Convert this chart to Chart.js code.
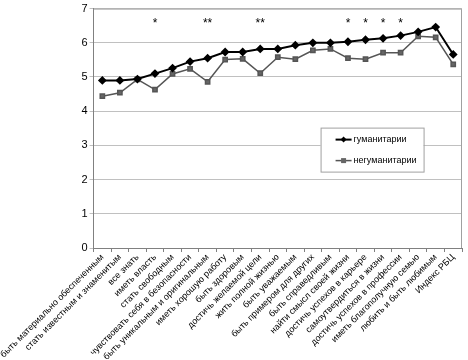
<!DOCTYPE html>
<html>
<head>
<meta charset="utf-8">
<script src="https://cdn.jsdelivr.net/npm/chart.js@4"></script>
<style>
  html, body { margin: 0; padding: 0; background: #fff; }
  #wrap { width: 468px; height: 360px; position: relative; }
</style>
</head>
<body>
<div id="wrap"><canvas id="chart"></canvas></div>
<script>
const categories = [
  "быть материально обеспеченным",
  "стать известным и знаменитым",
  "все знать",
  "иметь власть",
  "стать свободным",
  "чувствовать себя в безопасности",
  "быть уникальным и оригинальным",
  "иметь хорошую работу",
  "быть здоровым",
  "достичь желаемой цели",
  "жить полной жизнью",
  "быть уважаемым",
  "быть примером для других",
  "быть справедливым",
  "найти смысл своей жизни",
  "достичь успехов в карьере",
  "самоутвердиться в жизни",
  "достичь успехов в профессии",
  "иметь благополучную семью",
  "любить и быть любимым",
  "Индекс РБЦ"
];
const humanities = [4.90, 4.90, 4.94, 5.10, 5.26, 5.45, 5.55, 5.73, 5.73, 5.82, 5.82,
  5.93, 6.00, 6.00, 6.03, 6.09, 6.13, 6.21, 6.32, 6.46, 5.66];
const nonHumanities = [4.44, 4.54, 4.93, 4.63, 5.09, 5.24, 4.86, 5.51, 5.53, 5.11, 5.58,
  5.52, 5.78, 5.82, 5.55, 5.52, 5.71, 5.71, 6.19, 6.16, 5.37];
const significance = ["", "", "", "*", "", "", "**", "", "", "**", "",
  "", "", "", "*", "*", "*", "*", "", "", ""];
const yTicks = [0, 1, 2, 3, 4, 5, 6, 7];

const FONT = "'Liberation Sans', Arial, sans-serif";

// grey frame round the plot, like Excel
const frame = {
  id: "frame",
  beforeDatasetsDraw(chart) {
    const a = chart.chartArea, ctx = chart.ctx;
    ctx.save();
    ctx.strokeStyle = "#a0a0a0";
    ctx.lineWidth = 1;
    ctx.beginPath();
    ctx.moveTo(a.left, a.top + 0.5);
    ctx.lineTo(a.right - 0.5, a.top + 0.5);
    ctx.lineTo(a.right - 0.5, a.bottom);
    ctx.stroke();
    ctx.restore();
  }
};

// asterisks above significant differences
const starsPlugin = {
  id: "stars",
  afterDatasetsDraw(chart) {
    const ctx = chart.ctx;
    const xs = chart.scales.x, ys = chart.scales.y;
    ctx.save();
    ctx.fillStyle = "#000";
    ctx.font = "12px " + FONT;
    ctx.textAlign = "center";
    ctx.textBaseline = "middle";
    significance.forEach((s, i) => {
      if (!s) return;
      ctx.fillText(s, xs.getPixelForValue(i), ys.getPixelForValue(6.55));
    });
    ctx.restore();
  }
};

// Excel-like legend box inside the plot
const boxLegend = {
  id: "boxLegend",
  afterDraw(chart) {
    const ctx = chart.ctx;
    const a = chart.chartArea;
    const left = a.left + 227, top = a.top + 119, w = 103, h = 44;
    ctx.save();
    ctx.fillStyle = "#fff";
    ctx.fillRect(left, top, w, h);
    ctx.strokeStyle = "#a0a0a0";
    ctx.lineWidth = 1;
    ctx.strokeRect(left + 0.5, top + 0.5, w, h);
    ctx.font = "9px " + FONT;
    ctx.textBaseline = "middle";
    chart.data.datasets.forEach((ds, i) => {
      const y = top + 12 + i * 21;
      ctx.strokeStyle = ds.borderColor;
      ctx.lineWidth = ds.borderWidth;
      ctx.beginPath();
      ctx.moveTo(left + 15, y);
      ctx.lineTo(left + 31, y);
      ctx.stroke();
      ctx.fillStyle = ds.pointBackgroundColor;
      const cx = left + 23;
      if (ds.pointStyle === "rectRot") {
        ctx.beginPath();
        ctx.moveTo(cx, y - 3); ctx.lineTo(cx + 3, y); ctx.lineTo(cx, y + 3); ctx.lineTo(cx - 3, y);
        ctx.closePath(); ctx.fill();
      } else {
        ctx.fillRect(cx - 2.5, y - 2.5, 5, 5);
      }
      ctx.fillStyle = "#000";
      ctx.fillText(ds.label, left + 33, y);
    });
    ctx.restore();
  }
};

new Chart(document.getElementById("chart"), {
  type: "line",
  data: {
    labels: categories,
    datasets: [
      {
        label: "гуманитарии",
        data: humanities,
        borderColor: "#000",
        backgroundColor: "#000",
        pointBackgroundColor: "#000",
        pointBorderColor: "#000",
        borderWidth: 2,
        pointStyle: "rectRot",
        pointRadius: 3,
        tension: 0
      },
      {
        label: "негуманитарии",
        data: nonHumanities,
        borderColor: "#555",
        backgroundColor: "#666",
        pointBackgroundColor: "#666",
        pointBorderColor: "#555",
        borderWidth: 1.5,
        pointStyle: "rect",
        pointRadius: 3,
        tension: 0
      }
    ]
  },
  options: {
    responsive: true,
    maintainAspectRatio: false,
    animation: false,
    layout: { padding: { top: -6, right: 2, left: 0, bottom: 0 } },
    plugins: {
      legend: { display: false },
      tooltip: { enabled: false }
    },
    scales: {
      x: {
        offset: true,
        grid: { display: true, drawOnChartArea: false, drawTicks: true, tickLength: 4, offset: true, color: "#808080" },
        border: { color: "#808080" },
        ticks: {
          autoSkip: false, maxRotation: 45, minRotation: 45,
          color: "#000", padding: 0,
          font: { family: FONT, size: 9 }
        },
        afterFit(scale) { scale.height = 112; }
      },
      y: {
        min: 0, max: 7,
        afterBuildTicks(scale) { scale.ticks = yTicks.map(v => ({ value: v })); },
        grid: { color: "#c0c0c0", drawTicks: true, tickLength: 4 },
        border: { color: "#808080", width: 1 },
        ticks: { color: "#000", font: { family: FONT, size: 11 }, padding: 2 },
        afterFit(scale) { scale.width = 86; }
      }
    }
  },
  plugins: [frame, starsPlugin, boxLegend]
});
</script>
</body>
</html>
